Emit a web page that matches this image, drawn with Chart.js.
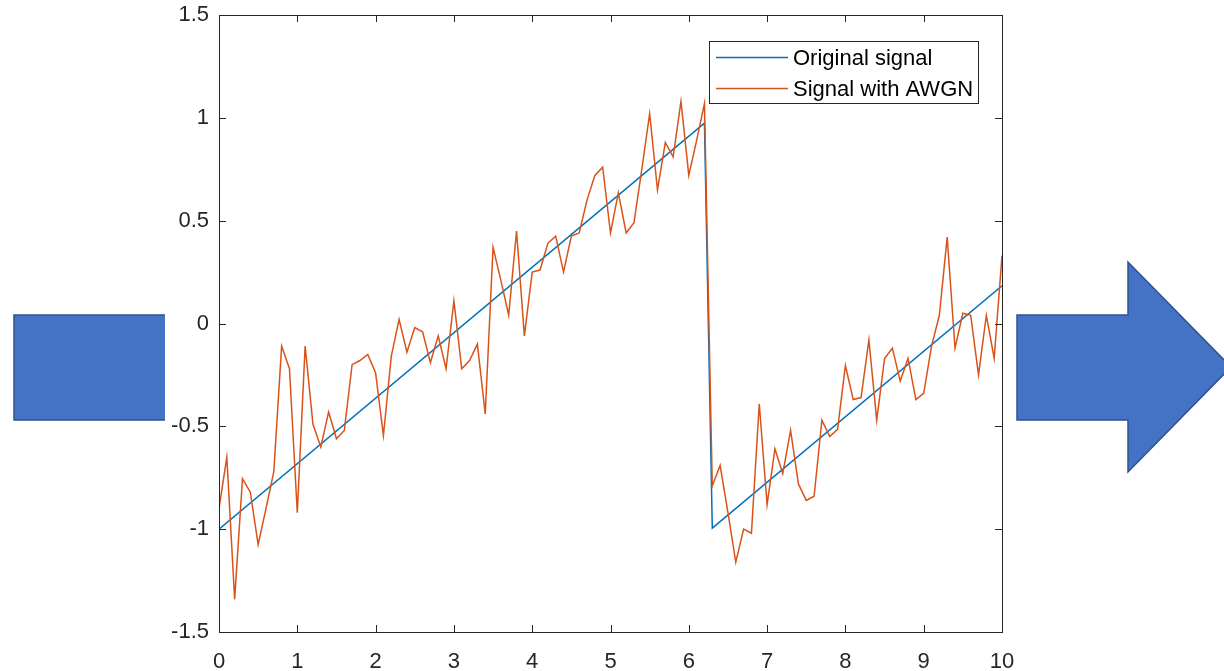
<!DOCTYPE html>
<html><head><meta charset="utf-8">
<script src="https://cdn.jsdelivr.net/npm/chart.js@4/dist/chart.umd.min.js"></script>
<style>html,body{margin:0;padding:0;background:#fff;overflow:hidden}#wrap{width:1224px;height:671px;position:relative}</style>
</head><body><div id="wrap"><canvas id="c" width="1224" height="671"></canvas></div>
<script>
const tValues = [0,0.1,0.2,0.3,0.4,0.5,0.6,0.7,0.8,0.9,1,1.1,1.2,1.3,1.4,1.5,1.6,1.7,1.8,1.9,2,2.1,2.2,2.3,2.4,2.5,2.6,2.7,2.8,2.9,3,3.1,3.2,3.3,3.4,3.5,3.6,3.7,3.8,3.9,4,4.1,4.2,4.3,4.4,4.5,4.6,4.7,4.8,4.9,5,5.1,5.2,5.3,5.4,5.5,5.6,5.7,5.8,5.9,6,6.1,6.2,6.3,6.4,6.5,6.6,6.7,6.8,6.9,7,7.1,7.2,7.3,7.4,7.5,7.6,7.7,7.8,7.9,8,8.1,8.2,8.3,8.4,8.5,8.6,8.7,8.8,8.9,9,9.1,9.2,9.3,9.4,9.5,9.6,9.7,9.8,9.9,10];
const noisySignal = [
 -0.90,-0.65,-1.34,-0.755,-0.82,-1.075,-0.90,-0.72,-0.11,-0.22,
 -0.92,-0.11,-0.49,-0.60,-0.43,-0.56,-0.52,-0.20,-0.18,-0.15,
 -0.24,-0.545,-0.16,0.02,-0.14,-0.02,-0.04,-0.19,-0.06,-0.22,
 0.11,-0.22,-0.18,-0.10,-0.44,0.37,0.21,0.04,0.45,-0.06,
 0.25,0.26,0.39,0.425,0.25,0.425,0.44,0.60,0.72,0.76,
 0.44,0.635,0.44,0.49,0.75,1.02,0.65,0.88,0.81,1.08,
 0.72,0.89,1.07,-0.79,-0.69,-0.92,-1.16,-1.00,-1.02,-0.39,
 -0.88,-0.61,-0.73,-0.52,-0.78,-0.86,-0.84,-0.47,-0.55,-0.515,
 -0.205,-0.37,-0.36,-0.08,-0.47,-0.17,-0.12,-0.28,-0.17,-0.37,
 -0.34,-0.11,0.04,0.42,-0.12,0.05,0.04,-0.25,0.04,-0.17,
 0.33];
const originalT = [0, 6.2, 6.3, 10];
const originalSignal = [-1, 0.974, -0.995, 0.183];
const xTicks = [0,1,2,3,4,5,6,7,8,9,10];
const yTicks = [-1.5,-1,-0.5,0,0.5,1,1.5];
const seriesNames = ['Original signal','Signal with AWGN'];
const seriesColors = ['#0072BD','#D95319'];

const FONT = "'Liberation Sans', Arial, Helvetica, sans-serif";
const TXT = '#262626';

const decor = {
  id: 'decor',
  beforeDraw(chart) {
    const ctx = chart.ctx;
    ctx.save();
    ctx.fillStyle = '#fff';
    ctx.fillRect(0, 0, chart.width, chart.height);
    ctx.fillStyle = '#4472C4';
    ctx.strokeStyle = '#2F528F';
    ctx.lineWidth = 1.5;
    ctx.fillRect(14, 315, 151, 105);
    ctx.beginPath();
    ctx.moveTo(165, 315); ctx.lineTo(14, 315); ctx.lineTo(14, 420); ctx.lineTo(165, 420);
    ctx.stroke();
    ctx.beginPath();
    ctx.moveTo(1017, 315); ctx.lineTo(1128, 315); ctx.lineTo(1128, 262);
    ctx.lineTo(1231, 367); ctx.lineTo(1128, 472); ctx.lineTo(1128, 420);
    ctx.lineTo(1017, 420); ctx.closePath();
    ctx.fill(); ctx.stroke();
    ctx.restore();
  },
  afterDatasetsDraw(chart) {
    const ctx = chart.ctx;
    const {left, right, top, bottom} = chart.chartArea;
    const xs = chart.scales.x, ys = chart.scales.y;
    ctx.save();
    ctx.strokeStyle = TXT;
    ctx.lineWidth = 1;
    ctx.strokeRect(Math.round(left) + 0.5, Math.round(top) + 0.5, Math.round(right - left), Math.round(bottom - top));
    const tl = 7;
    ctx.beginPath();
    xTicks.forEach(v => {
      const px = Math.round(xs.getPixelForValue(v)) + 0.5;
      ctx.moveTo(px, bottom); ctx.lineTo(px, bottom - tl);
      ctx.moveTo(px, top); ctx.lineTo(px, top + tl);
    });
    yTicks.forEach(v => {
      const py = Math.round(ys.getPixelForValue(v)) + 0.5;
      ctx.moveTo(left, py); ctx.lineTo(left + tl, py);
      ctx.moveTo(right, py); ctx.lineTo(right - tl, py);
    });
    ctx.stroke();
    // legend
    const lx = right - 293, ly = top + 26, lw = 269, lh = 62;
    ctx.fillStyle = '#fff';
    ctx.fillRect(lx, ly, lw, lh);
    ctx.strokeRect(lx + 0.5, ly + 0.5, lw, lh);
    ctx.font = '22px ' + FONT;
    ctx.textBaseline = 'middle';
    ctx.textAlign = 'left';
    seriesNames.forEach((name, i) => {
      const yy = ly + 16.5 + i * 31;
      ctx.strokeStyle = seriesColors[i];
      ctx.lineWidth = 1.5;
      ctx.beginPath(); ctx.moveTo(lx + 7, yy); ctx.lineTo(lx + 79, yy); ctx.stroke();
      ctx.fillStyle = '#000';
      ctx.fillText(name, lx + 84, yy + 1);
    });
    ctx.restore();
  }
};

new Chart(document.getElementById('c'), {
  type: 'line',
  data: {
    datasets: [
      { label: seriesNames[0], data: originalT.map((t, i) => ({x: t, y: originalSignal[i]})),
        borderColor: seriesColors[0], borderWidth: 1.5, pointRadius: 0, tension: 0, fill: false, order: 1 },
      { label: seriesNames[1], data: tValues.map((t, i) => ({x: t, y: noisySignal[i]})),
        borderColor: seriesColors[1], borderWidth: 1.5, pointRadius: 0, tension: 0, fill: false, order: 0 }
    ]
  },
  options: {
    responsive: false,
    animation: false,
    layout: { padding: { left: 0, top: 15, right: 222, bottom: 0 } },
    plugins: { legend: { display: false }, tooltip: { enabled: false } },
    scales: {
      x: {
        type: 'linear', min: 0, max: 10,
        grid: { display: false, drawTicks: false },
        border: { display: false },
        afterBuildTicks: s => { s.ticks = xTicks.map(v => ({value: v})); },
        afterFit: s => { s.height = 39; s.paddingLeft = 0; s.paddingRight = 0; },
        ticks: { color: TXT, padding: 17, font: { family: FONT, size: 22 }, maxRotation: 0, autoSkip: false, callback: v => String(v) }
      },
      y: {
        type: 'linear', min: -1.5, max: 1.5,
        grid: { display: false, drawTicks: false },
        border: { display: false },
        afterBuildTicks: s => { s.ticks = yTicks.map(v => ({value: v})); },
        afterFit: s => { s.width = 219; s.paddingTop = 0; s.paddingBottom = 0; },
        ticks: { color: TXT, padding: 10, font: { family: FONT, size: 22 }, autoSkip: false, callback: v => String(v) }
      }
    }
  },
  plugins: [decor]
});
</script>
</body></html>
